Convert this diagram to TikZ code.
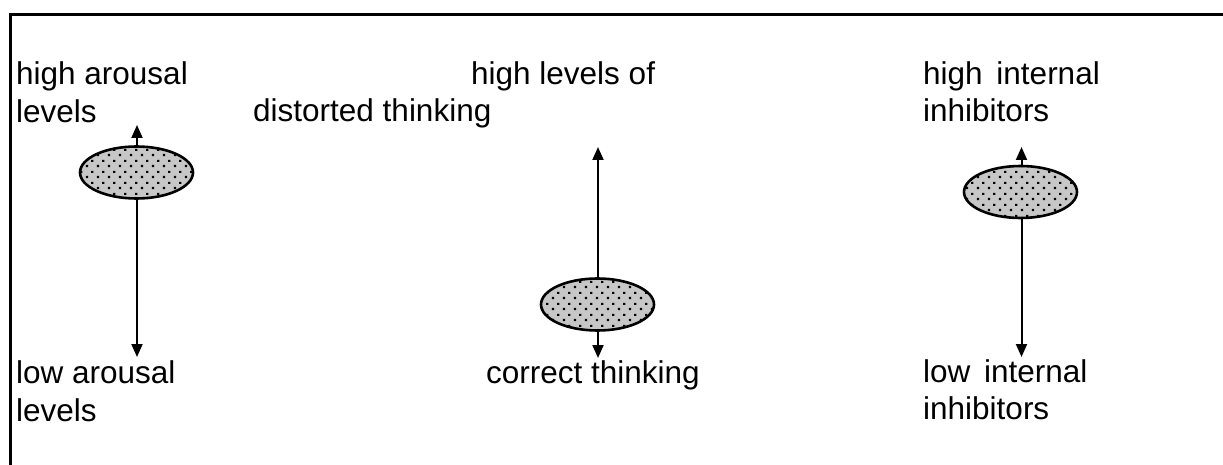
\documentclass[tikz,border=0pt]{standalone}
\usepackage{fontspec}
\setmainfont{Liberation Sans}
\usetikzlibrary{shapes.geometric,patterns.meta,arrows.meta}
\tikzdeclarepattern{
  name=smalldots,
  type=uncolored,
  bounding box={(0pt,0pt) and (10.6pt,11pt)},
  tile size={(10.6pt,11pt)},
  code={
    \pgfpathrectangle{\pgfpoint{1pt}{1pt}}{\pgfpoint{2.3pt}{2.3pt}}
    \pgfpathrectangle{\pgfpoint{6.3pt}{6.5pt}}{\pgfpoint{2.3pt}{2.3pt}}
    \pgfusepath{fill}}
}
\tikzset{
  lbl/.style={anchor=base west,inner sep=0pt,font=\fontsize{31.5pt}{38pt}\selectfont,text=black},
  blob/.style={ellipse,draw=black,line width=2.6pt,minimum width=113pt,minimum height=52pt,inner sep=0pt,
    preaction={fill=black!22},pattern=smalldots,pattern color=black},
  arr/.style={line width=2pt,-{Triangle[length=13pt,width=11pt]}},
  frame/.style={line width=3pt}
}
\begin{document}
\begin{tikzpicture}[x=1pt,y=-1pt]
\useasboundingbox (0,0) rectangle (1223,465);
% frame
\coordinate (fa) at (9,14.5);
\coordinate (fb) at (1223,14.5);
\coordinate (fc) at (10.5,13);
\coordinate (fd) at (10.5,465);
\draw[frame] (fa) -- (fb);
\draw[frame] (fc) -- (fd);
% labels
\node[lbl] (ha1) at (16,85) {high arousal};
\node[lbl] (ha2) at (16,123) {levels};
\node[lbl] (la1) at (16,383) {low arousal};
\node[lbl] (la2) at (16,421) {levels};
\node[lbl] (hd1) at (471,85) {high levels of};
\node[lbl] (hd2) at (253,122) {distorted thinking};
\node[lbl] (ct) at (486,383) {correct thinking};
\node[lbl] (hi1) at (923,85) {high\hspace{5pt} internal};
\node[lbl] (hi2) at (923,122) {inhibitors};
\node[lbl] (li1) at (923,382) {low\hspace{5pt} internal};
\node[lbl] (li2) at (923,419) {inhibitors};
% ellipses
\node[blob] (e1) at (136.5,172.5) {};
\node[blob] (e2) at (597.5,304.5) {};
\node[blob] (e3) at (1020.5,192) {};
% arrow tips
\coordinate (t1u) at (137,125);
\coordinate (t1d) at (137,357);
\coordinate (t2u) at (598,147);
\coordinate (t2d) at (598,358);
\coordinate (t3u) at (1021.5,147);
\coordinate (t3d) at (1021.5,357);
\draw[arr] (t1u |- e1.north) -- (t1u);
\draw[arr] (t1d |- e1.south) -- (t1d);
\draw[arr] (t2u |- e2.north) -- (t2u);
\draw[arr] (t2d |- e2.south) -- (t2d);
\draw[arr] (t3u |- e3.north) -- (t3u);
\draw[arr] (t3d |- e3.south) -- (t3d);
\end{tikzpicture}
\end{document}
